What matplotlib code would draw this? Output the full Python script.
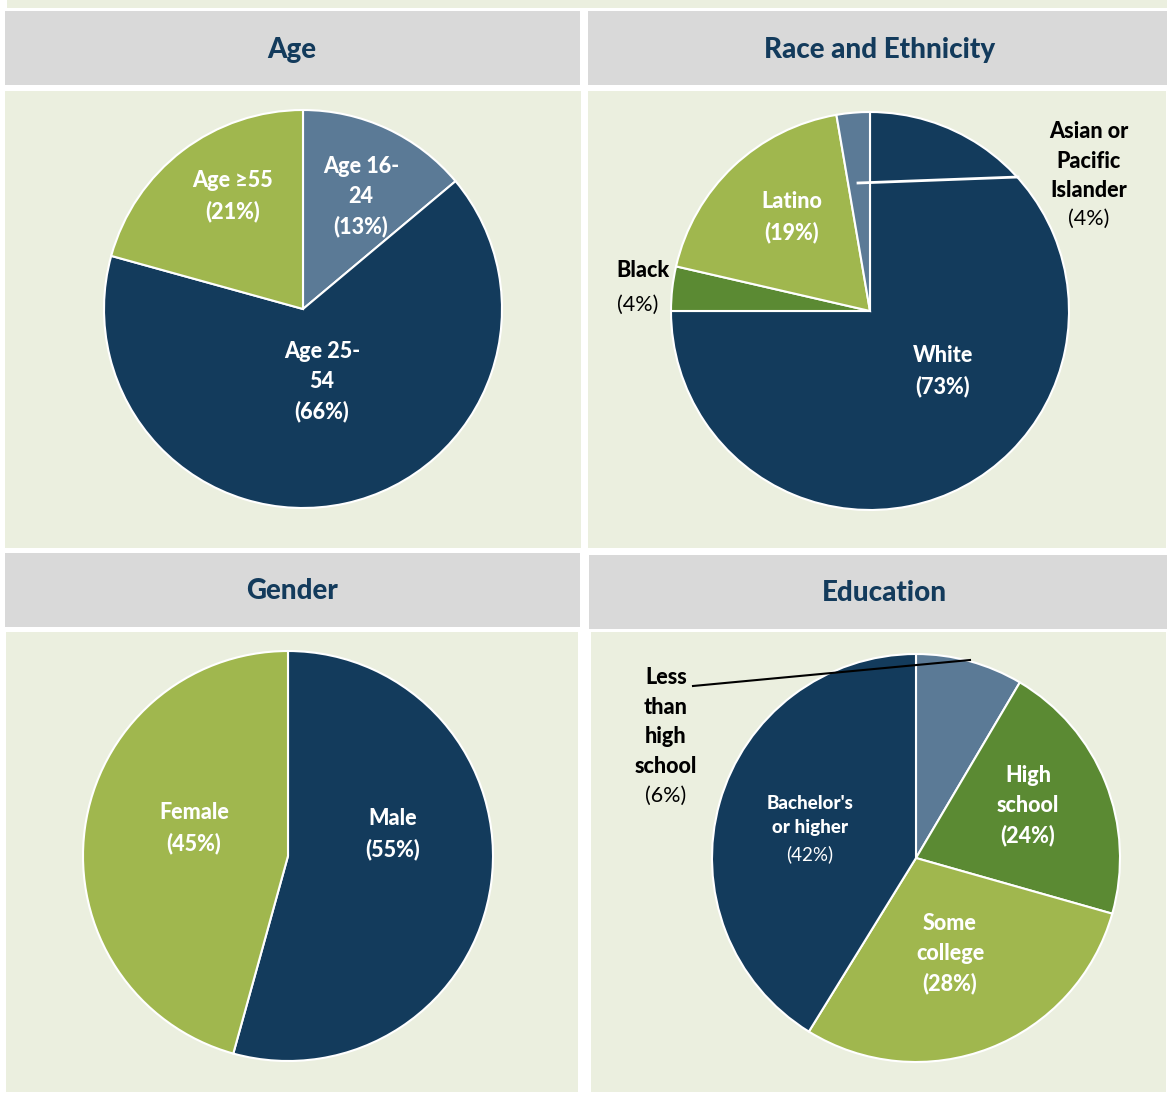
import matplotlib
matplotlib.use('Agg')
import matplotlib.pyplot as plt
from matplotlib.patches import Rectangle

plt.rcParams['font.family'] = ['Lato', 'DejaVu Sans']

age_labels = ['Age 16-\n24\n(13%)', 'Age 25-\n54\n(66%)', 'Age \u226555\n(21%)']
age_values = [13.9, 65.4, 20.7]
race_labels = ['White', 'Black', 'Latino', 'Asian or Pacific Islander']
race_values = [75.0, 3.6, 18.7, 2.7]
gender_labels = ['Male', 'Female']
gender_values = [54.3, 45.7]
edu_labels = ['Less than high school', 'High school', 'Some college', "Bachelor's or higher"]
edu_values = [8.5, 20.9, 29.4, 41.2]

NAVY = '#133B5C'
SLATE = '#5B7A96'
LIGHTG = '#A0B74E'
DARKG = '#5B8A33'
PANEL = '#EBEFDF'
HEAD = '#D9D9D9'

W, H = 1167, 1093
fig = plt.figure(figsize=(W / 100, H / 100), dpi=100)
fig.patch.set_facecolor('white')
bg = fig.add_axes([0, 0, 1, 1], zorder=0)
bg.set_xlim(0, W)
bg.set_ylim(H, 0)
bg.axis('off')

def box(x0, y0, x1, y1, c):
    bg.add_patch(Rectangle((x0, y0), x1 - x0, y1 - y0, facecolor=c, edgecolor='none'))

box(7, 0, 1167, 8, PANEL)
box(5, 11, 580, 85, HEAD)
box(588, 11, 1167, 85, HEAD)
box(5, 91, 581, 548, PANEL)
box(588, 91, 1166, 548, PANEL)
box(5, 553, 580, 627, HEAD)
box(589, 555, 1167, 629, HEAD)
box(6, 632, 578, 1092, PANEL)
box(591, 632, 1166, 1092, PANEL)

for t, x, y in [('Age', 292, 50), ('Race and Ethnicity', 880, 50),
                ('Gender', 292, 591), ('Education', 884, 593)]:
    bg.text(x, y, t, ha='center', va='center', fontsize=20, fontweight='black', color=NAVY)

def pie_ax(cx, cy, r, values, colors):
    m = 1.1
    ax = fig.add_axes([(cx - r * m) / W, 1 - (cy + r * m) / H, 2 * r * m / W, 2 * r * m / H], zorder=1)
    ax.pie(values, colors=colors, startangle=90, counterclock=False, radius=1,
           wedgeprops=dict(edgecolor='white', linewidth=1.5))
    ax.set_xlim(-m, m)
    ax.set_ylim(-m, m)
    ax.axis('off')
    return ax

def lab(ax, cx, cy, r, px, py, s, color='white', weight='black', size=15.5, ls=1.5):
    ax.text((px - cx) / r, (cy - py) / r, s, ha='center', va='center', color=color,
            fontweight=weight, fontsize=size, linespacing=ls)

# Age
c = (303, 309, 199)
ax = pie_ax(*c, age_values, [SLATE, NAVY, LIGHTG])
lab(ax, *c, 361, 197, age_labels[0])
lab(ax, *c, 322, 382, age_labels[1])
lab(ax, *c, 233, 196, age_labels[2])

# Race and Ethnicity
c = (870, 311, 199)
ax = pie_ax(*c, race_values, [NAVY, DARKG, LIGHTG, SLATE])
lab(ax, *c, 943, 371, 'White\n(73%)')
lab(ax, *c, 792, 217, 'Latino\n(19%)')
lab(ax, *c, 643, 270, 'Black', color='black')
lab(ax, *c, 638, 305, '(4%)', color='black', weight='normal')
lab(ax, *c, 1089, 161, 'Asian or\nPacific\nIslander', color='black')
lab(ax, *c, 1089, 219, '(4%)', color='black', weight='normal')
fig.add_artist(plt.Line2D([858 / W, 1018 / W], [1 - 183 / H, 1 - 177 / H], color='white', lw=2, zorder=5))

# Gender
c = (288, 856, 205)
ax = pie_ax(*c, gender_values, [NAVY, LIGHTG])
lab(ax, *c, 393, 834, 'Male\n(55%)')
lab(ax, *c, 194, 828, 'Female\n(45%)')

# Education
c = (916, 858, 204)
ax = pie_ax(*c, edu_values, [SLATE, DARKG, LIGHTG, NAVY])
lab(ax, *c, 1028, 806, 'High\nschool\n(24%)')
lab(ax, *c, 950, 954, 'Some\ncollege\n(28%)')
lab(ax, *c, 810, 815, "Bachelor's\nor higher", size=13.5)
lab(ax, *c, 810, 854, '(42%)', weight='normal', size=13.5)
lab(ax, *c, 666, 722, 'Less\nthan\nhigh\nschool', color='black')
lab(ax, *c, 666, 796, '(6%)', color='black', weight='normal')
fig.add_artist(plt.Line2D([693 / W, 970 / W], [1 - 686 / H, 1 - 660 / H], color='black', lw=1.5, zorder=5))

fig.savefig('out.png', dpi=100)
